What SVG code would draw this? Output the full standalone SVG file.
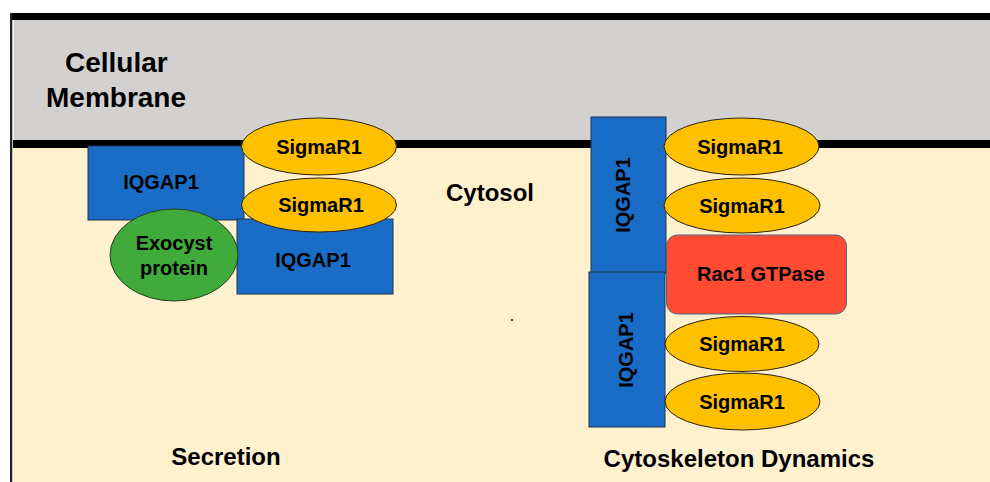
<svg xmlns="http://www.w3.org/2000/svg" width="990" height="482" viewBox="0 0 990 482">
  <style>
    text { font-family: "Liberation Sans", Arial, sans-serif; font-weight: bold; fill: #000; text-anchor: middle; }
    .lbl { font-size: 20px; }
    .big { font-size: 24px; }
    .title { font-size: 28px; text-anchor: start; }
    .iq { fill: #1A6DC6; stroke: #1F3550; stroke-width: 1; }
    .sig { fill: #FFC000; stroke: #2A2410; stroke-width: 1; }
  </style>

  <!-- background: membrane and cytosol -->
  <rect x="0" y="0" width="990" height="482" fill="#FFFFFF"/>
  <rect x="13" y="20" width="977" height="462" fill="#FFF0CE"/>
  <rect x="13" y="20" width="977" height="120" fill="#D2D1D0"/>
  <rect x="10" y="13" width="980" height="7" fill="#000"/>
  <rect x="10" y="13" width="2.5" height="469" fill="#222"/>
  <rect x="12.5" y="20" width="1.5" height="462" fill="#F4F4F4"/>
  <rect x="13" y="140" width="977" height="8" fill="#000"/>

  <g id="membrane-label">
    <text class="title" x="65" y="72">Cellular</text>
    <text class="title" x="46" y="107">Membrane</text>
  </g>
  <g id="cytosol-label"><text class="big" x="490" y="201">Cytosol</text></g>
  <circle cx="512" cy="320" r="1" fill="#000"/>

  <!-- secretion complex -->
  <g id="iqgap1-a">
    <rect class="iq" x="88" y="146" width="156" height="74"/>
    <text class="lbl" x="161" y="189">IQGAP1</text>
  </g>
  <g id="iqgap1-b">
    <rect class="iq" x="237" y="219" width="156" height="75"/>
    <text class="lbl" x="313" y="267">IQGAP1</text>
  </g>
  <g id="sigmar1-a">
    <ellipse class="sig" cx="319" cy="146.5" rx="77.5" ry="28.5"/>
    <text class="lbl" x="319" y="153.5">SigmaR1</text>
  </g>
  <g id="sigmar1-b">
    <ellipse class="sig" cx="319" cy="205" rx="77.5" ry="27"/>
    <text class="lbl" x="321" y="212">SigmaR1</text>
  </g>
  <g id="exocyst">
    <ellipse cx="174" cy="255" rx="64" ry="46" fill="#40AB3A" stroke="#22401F" stroke-width="1"/>
    <text class="lbl" x="174" y="250">Exocyst</text>
    <text class="lbl" x="174" y="275">protein</text>
  </g>
  <g id="secretion-label"><text class="big" x="226" y="465">Secretion</text></g>

  <!-- cytoskeleton complex -->
  <g id="iqgap1-c">
    <rect class="iq" x="591" y="117" width="75" height="156"/>
    <text class="lbl" transform="translate(630,195) rotate(-90)">IQGAP1</text>
  </g>
  <g id="iqgap1-d">
    <rect class="iq" x="589" y="272" width="76" height="155"/>
    <text class="lbl" transform="translate(633,350) rotate(-90)">IQGAP1</text>
  </g>
  <g id="sigmar1-c">
    <ellipse class="sig" cx="741.5" cy="146.5" rx="77.5" ry="28.5"/>
    <text class="lbl" x="740" y="153.5">SigmaR1</text>
  </g>
  <g id="sigmar1-d">
    <ellipse class="sig" cx="742" cy="205.5" rx="78" ry="27.5"/>
    <text class="lbl" x="742" y="212.5">SigmaR1</text>
  </g>
  <g id="rac1">
    <rect x="666.5" y="235" width="180" height="79" rx="11" fill="#FF4B33" stroke="#4A6A8A" stroke-width="1"/>
    <text class="lbl" x="761" y="281">Rac1 GTPase</text>
  </g>
  <g id="sigmar1-e">
    <ellipse class="sig" cx="742" cy="344" rx="77" ry="27.5"/>
    <text class="lbl" x="742" y="351">SigmaR1</text>
  </g>
  <g id="sigmar1-f">
    <ellipse class="sig" cx="742.5" cy="401.5" rx="77.5" ry="28.5"/>
    <text class="lbl" x="742" y="409">SigmaR1</text>
  </g>
  <g id="cytoskeleton-label"><text class="big" x="739" y="467">Cytoskeleton Dynamics</text></g>
</svg>
